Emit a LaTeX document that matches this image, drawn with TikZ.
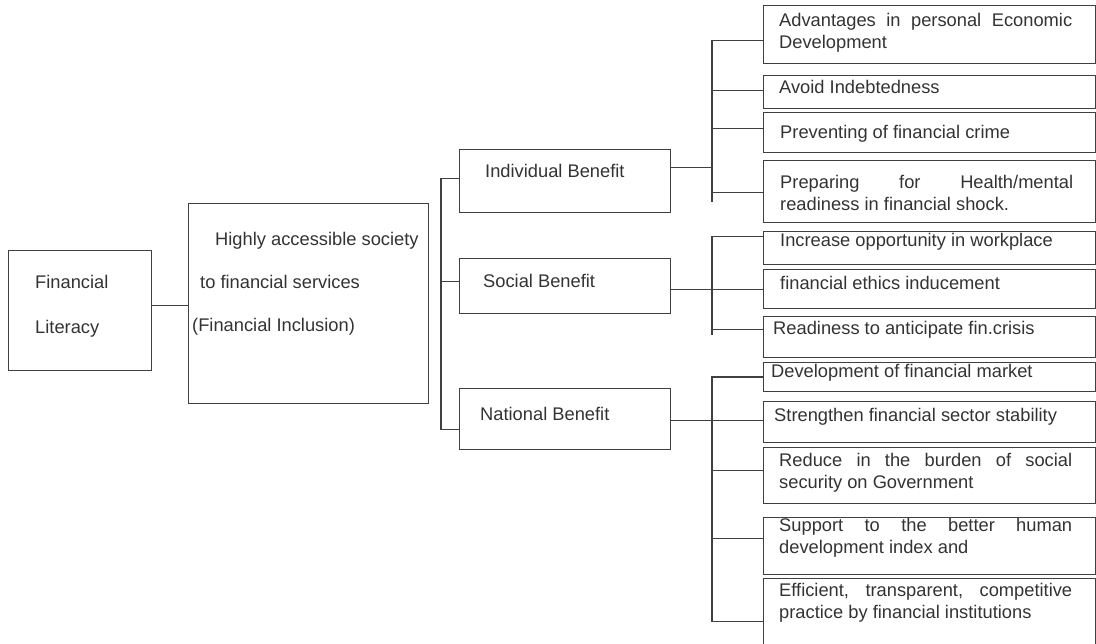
\documentclass[tikz,border=0pt]{standalone}
\usepackage{fontspec}
\setmainfont{Liberation Sans}
\hyphenpenalty=10000
\exhyphenpenalty=10000

\begin{document}
\begin{tikzpicture}[x=1pt, y=-1pt]
    % Define styles
    \tikzset{
        blockbox/.style={
            rectangle,
            draw=black!75,
            line width=1.3pt,
            inner sep=0pt,
            anchor=north west
        },
        link/.style={
            black!75,
            line width=1.3pt
        },
        txt/.style={
            anchor=north west,
            inner sep=0pt,
            text=black!80,
            font=\fontsize{18.3}{22}\selectfont
        },
        itemtxt/.style={
            txt,
            text width=293pt,
            align=justify
        }
    }
    \useasboundingbox (0,0) rectangle (1096,644);

    % Financial literacy and inclusion
    \node[blockbox, minimum width=143, minimum height=120] (lit) at (8,250) {};
    \node[txt, align=left, font=\fontsize{18.3}{45}\selectfont] (lit-t) at (35,275) {Financial\\Literacy};
    \node[blockbox, minimum width=240, minimum height=200] (incl) at (188,203) {};
    \node[txt, align=left, font=\fontsize{18.3}{43}\selectfont] (incl-t) at (192,232)
        {\hspace*{23pt}Highly accessible society\\\hspace*{8pt}to financial services\\(Financial Inclusion)};

    % Benefit boxes
    \foreach \n/\y/\h in {indiv/149/63, social/258/55, natl/388/61}
        \node[blockbox, minimum width=211, minimum height=\h] (\n) at (459,\y) {};
    \node[txt] (indiv-t) at (485,164) {Individual Benefit};
    \node[txt] (social-t) at (483,274) {Social Benefit};
    \node[txt] (natl-t) at (480,407) {National Benefit};

    % Benefit items
    \foreach \n/\t/\b in {adv/5/63, avoid/75/108, crime/112/152, prep/160/222,
                          work/231/264, ethic/269/308, crisis/316/357,
                          market/362/391, stab/401/442, burden/447/503, hdi/517/574, inst/578/660}
        \node[blockbox, minimum width=332, minimum height=\b-\t] (\n) at (763,\t) {};
    \foreach \n/\x/\y/\s in {
        adv/779/13/{Advantages in personal Economic Development},
        avoid/779/80/{Avoid Indebtedness},
        crime/780/125/{Preventing of financial crime},
        prep/780/175/{Preparing for Health/mental readiness in financial shock.},
        work/780/233/{Increase opportunity in workplace},
        ethic/780/276/{financial ethics inducement},
        crisis/773/321/{Readiness to anticipate fin.crisis},
        market/771/364/{Development of financial market},
        stab/774/408/{Strengthen financial sector stability},
        burden/779/453/{Reduce in the burden of social security on Government},
        hdi/779/518/{Support to the better human development index and},
        inst/779/583/{Efficient, transparent, competitive practice by financial institutions}}
        \node[itemtxt] (\n-t) at (\x,\y) {\s};

    % Connectors
    \draw[link] ([yshift=5]lit.east) -- ([yshift=5]lit.east -| incl.west);
    \draw[link] ([yshift=2.5]indiv.west) -- ++(-18,0) |- ([yshift=-10.5]natl.west);
    \draw[link] ([yshift=4.5]social.west) -- ++(-18,0);

    % Individual branch
    \coordinate (ibus) at (712,202);
    \draw[link] ([yshift=-6]adv.west) -- ++(-51,0) -- (ibus);
    \draw[link] ([yshift=13.5]indiv.east) -- ([yshift=13.5]indiv.east -| ibus);
    \foreach \n/\s in {avoid/1.5, crime/4, prep/-1}
        \draw[link] ([yshift=\s]\n.west) -- ([yshift=\s]\n.west -| ibus);

    % Social branch
    \coordinate (sbus) at (712,335);
    \draw[link] ([yshift=11.5]work.west) -- ++(-51,0) -- (sbus);
    \draw[link] ([yshift=-3.5]social.east) -- ([yshift=-3.5]social.east -| ethic.west);
    \draw[link] ([yshift=7.5]crisis.west) -- ([yshift=7.5]crisis.west -| sbus);

    % National branch
    \draw[link] (market.west) -- ++(-51,0) |- ([yshift=-2]inst.west);
    \draw[link] ([yshift=-1.5]natl.east) -- ([yshift=-1.5]natl.east -| stab.west);
    \foreach \n/\s in {burden/5, hdi/7.5}
        \draw[link] ([yshift=\s]\n.west) -- ++(-51,0);
\end{tikzpicture}
\end{document}
